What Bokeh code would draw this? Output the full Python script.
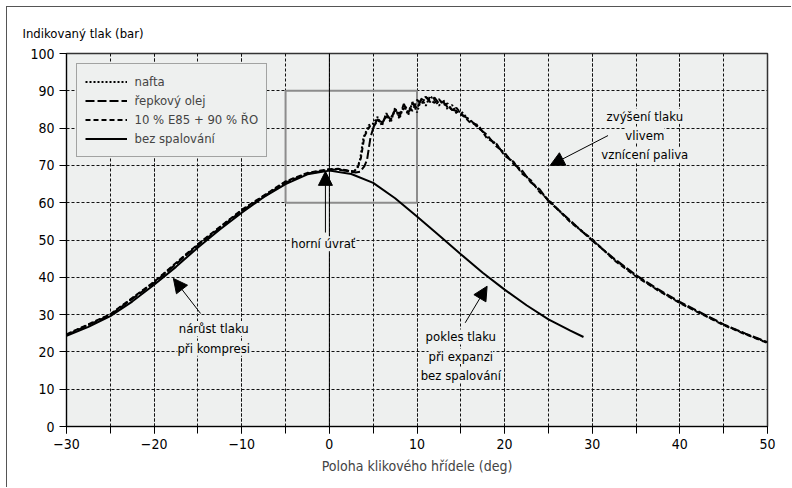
from bokeh.plotting import figure
from bokeh.models import (Range1d, SingleIntervalTicker, Legend, LegendItem, Label,
                          Arrow, NormalHead, Span, Title)
from bokeh.embed import file_html
from bokeh.resources import INLINE

# ---------------- data ----------------
deg_motor = [-30, -27.5, -25, -22.5, -20, -17.5, -15, -12.5, -10, -7.5, -5, -2.5, 0,
             2.5, 5, 7.5, 10, 12.5, 15, 17.5, 20, 22.5, 25, 27.5, 29]
p_motor = [24.3, 26.7, 29.6, 33.5, 38.0, 42.8, 48.0, 52.8, 57.3, 61.5, 65.0, 67.6, 68.6,
           67.7, 65.3, 61.2, 56.3, 51.3, 46.2, 41.2, 36.7, 32.5, 28.7, 25.7, 24.0]

deg_nafta = [-30, -25, -20, -15, -10, -5, -2.5, 0, 1, 2, 2.8, 3.2, 3.5, 3.9, 4.5,
             5.0, 5.5, 6.0, 6.5, 7.0, 7.5, 8.0, 8.5, 9.0, 9.5, 10.0, 10.5, 11.0, 11.5,
             12.0, 12.5, 13.0, 13.5, 14.0, 14.5, 15.0, 16, 17, 18, 19, 20, 21, 22, 23,
             24, 25, 27.5, 30, 32.5, 35, 37.5, 40, 42.5, 45, 47.5, 50]
p_nafta = [24.6, 30.0, 38.7, 48.8, 58.0, 65.6, 67.9, 68.9, 69.0, 68.6, 68.3, 69.5, 71.5, 77.5, 80.8,
           81.2, 83.0, 80.6, 84.0, 81.5, 85.5, 82.5, 86.2, 83.5, 87.0, 84.2, 88.0, 86.0, 88.6,
           87.5, 86.0, 87.6, 85.0, 86.2, 84.0, 84.6, 82.0, 80.4, 77.6, 75.8, 73.0, 70.8, 68.2, 65.7,
           63.2, 60.6, 55.0, 50.0, 44.8, 40.4, 36.6, 33.2, 30.2, 27.3, 24.8, 22.5]

deg_repka = [-30, -25, -20, -15, -10, -5, -2.5, 0, 1, 2, 3, 3.5, 4.0, 4.3, 4.7, 5.1,
             5.5, 6.0, 6.5, 7.0, 7.5, 8.0, 8.5, 9.0, 9.5, 10.0, 10.5, 11.0, 11.5, 12.0,
             12.5, 13.0, 13.5, 14.0, 14.5, 15.0, 16, 17, 18, 19, 20, 21, 22, 23, 24, 25,
             27.5, 30, 32.5, 35, 37.5, 40, 42.5, 45, 47.5, 50]
p_repka = [24.5, 29.9, 38.5, 48.6, 57.8, 65.4, 67.8, 68.8, 68.9, 68.5, 68.1, 68.3, 69.8, 71.5, 77.6, 80.7,
           82.4, 81.0, 83.8, 82.2, 85.0, 83.0, 86.5, 84.0, 86.8, 85.2, 87.8, 88.4, 87.0,
           88.2, 86.6, 87.0, 85.6, 85.0, 84.6, 83.6, 82.4, 80.0, 78.2, 75.2, 73.4, 70.4, 68.6, 65.4,
           63.6, 60.4, 55.2, 49.8, 45.0, 40.6, 36.8, 33.4, 30.4, 27.4, 24.9, 22.6]

deg_e85 = [-30, -25, -20, -15, -10, -5, -2.5, 0, 1, 2, 2.8, 3.2, 3.6, 4.0, 4.6,
           5.0, 5.5, 6.0, 6.5, 7.0, 7.5, 8.0, 8.5, 9.0, 9.5, 10.0, 10.5, 11.0, 11.5,
           12.0, 12.5, 13.0, 13.5, 14.0, 14.5, 15.0, 16, 17, 18, 19, 20, 21, 22, 23,
           24, 25, 27.5, 30, 32.5, 35, 37.5, 40, 42.5, 45, 47.5, 50]
p_e85 = [24.7, 30.1, 38.8, 48.9, 58.1, 65.7, 68.0, 69.0, 69.1, 68.7, 68.4, 69.2, 72.0, 77.8, 80.5,
         80.2, 82.0, 81.6, 83.0, 82.8, 84.4, 84.0, 85.2, 85.8, 84.6, 87.6, 86.4, 88.4, 87.4,
         86.8, 87.8, 86.2, 86.6, 84.8, 85.4, 84.0, 81.6, 80.8, 77.2, 76.0, 72.6, 71.0, 67.8, 66.0,
         62.8, 60.8, 54.8, 50.2, 44.6, 40.2, 36.5, 33.1, 30.1, 27.2, 24.7, 22.4]

x_ticks = [-30, -20, -10, 0, 10, 20, 30, 40, 50]
x_tick_labels = ["\u221230", "\u221220", "\u221210", "0", "10", "20", "30", "40", "50"]
zoom_box = [-5, 10, 60, 90]  # left, right, bottom, top

FONT = "'DejaVu Sans Condensed', Roboto, sans-serif"
BG = "#eef0ef"

p = figure(width=785, height=481, output_backend="svg", toolbar_location=None,
           x_range=Range1d(-30, 50), y_range=Range1d(0, 100),
           min_border_left=59, min_border_right=25, min_border_top=46, min_border_bottom=62,
           background_fill_color=BG, border_fill_color="white")
p.styles = {"margin-left": "5.5px", "margin-top": "5.5px",
            "border-left": "1.5px solid #555", "border-top": "1.5px solid #555"}
p.outline_line_color = "#333"
p.outline_line_width = 1.5

# y axis title (horizontal, above the axis)
t = Title(text="Indikovaný tlak (bar)", align="left", offset=-44, standoff=26,
          text_font=FONT, text_font_size="13px", text_font_style="normal", text_color="black")
p.add_layout(t, "above")

# axes
p.xaxis.ticker = SingleIntervalTicker(interval=10, num_minor_ticks=2)
p.yaxis.ticker = SingleIntervalTicker(interval=10, num_minor_ticks=0)
p.xaxis.major_label_overrides = {t_: l for t_, l in zip(x_ticks, x_tick_labels)}
for ax in (p.xaxis[0], p.yaxis[0]):
    ax.major_tick_in = 0
    ax.major_tick_out = 7
    ax.minor_tick_in = 0
    ax.minor_tick_out = 7
    ax.major_tick_line_color = "black"
    ax.minor_tick_line_color = "black"
    ax.axis_line_color = "black"
    ax.major_label_text_font = FONT
    ax.major_label_text_font_size = "14px"
    ax.major_label_text_color = "black"
    ax.major_label_standoff = 5
p.yaxis.minor_tick_line_color = None
p.xaxis.axis_label = "Poloha klikového hřídele (deg)"
p.xaxis.axis_label_text_font = FONT
p.xaxis.axis_label_text_font_size = "14px"
p.xaxis.axis_label_text_font_style = "normal"
p.xaxis.axis_label_standoff = 6

# grid
for g in (p.xgrid[0], p.ygrid[0]):
    g.grid_line_color = "#111"
    g.grid_line_dash = "3 2"
    g.grid_line_width = 1
p.xgrid.minor_grid_line_color = "#111"
p.xgrid.minor_grid_line_dash = "3 2"
p.xgrid.minor_grid_line_width = 1

# zoom box and TDC line
p.quad(left=[zoom_box[0]], right=[zoom_box[1]], bottom=[zoom_box[2]], top=[zoom_box[3]],
       fill_alpha=0, line_color="#8c8c8c", line_width=2)
p.add_layout(Span(location=0, dimension="height", line_color="black", line_width=1))

# curves
r_nafta = p.line(deg_nafta, p_nafta, line_color="black", line_width=2, line_dash="2 2")
r_repka = p.line(deg_repka, p_repka, line_color="black", line_width=2, line_dash="9 3")
r_e85 = p.line(deg_e85, p_e85, line_color="black", line_width=2, line_dash="5 3")
r_motor = p.line(deg_motor, p_motor, line_color="black", line_width=2)

legend = Legend(items=[LegendItem(label="nafta", renderers=[r_nafta]),
                       LegendItem(label="řepkový olej", renderers=[r_repka]),
                       LegendItem(label="10 % E85 + 90 % ŘO", renderers=[r_e85]),
                       LegendItem(label="bez spalování", renderers=[r_motor])],
                location="top_left")
legend.margin = 10
legend.padding = 8
legend.spacing = 0
legend.label_height = 19
legend.glyph_height = 19
legend.glyph_width = 42
legend.label_standoff = 8
legend.label_text_font = FONT
legend.label_text_font_size = "13px"
legend.border_line_color = "#555"
legend.border_line_width = 1.5
legend.background_fill_color = BG
legend.background_fill_alpha = 1
p.add_layout(legend)

# arrows
def arrow(x0, y0, x1, y1):
    p.add_layout(Arrow(end=NormalHead(size=14, fill_color="black", line_color="black"),
                       x_start=x0, y_start=y0, x_end=x1, y_end=y1,
                       line_color="black", line_width=1))

arrow(31.8, 78.0, 25.2, 70.0)
arrow(-0.45, 52.0, -0.45, 68.4)
arrow(-14.7, 30.3, -17.8, 39.7)
arrow(15.5, 27.8, 18.0, 37.6)

def label(x, y, txt):
    lb = Label(x=x, y=y, text=txt, text_font=FONT, text_font_size="13px",
               text_align="center", text_baseline="middle", text_color="black",
               background_fill_color=BG, background_fill_alpha=1)
    p.add_layout(lb)

label(36.0, 83.2, "zvýšení tlaku")
label(36.0, 78.0, "vlivem")
label(36.0, 72.8, "vznícení paliva")
label(-0.7, 49.0, "horní úvrať")
label(-13.2, 26.3, "nárůst tlaku")
label(-13.2, 21.0, "při kompresi")
label(15.0, 24.0, "pokles tlaku")
label(15.0, 18.8, "při expanzi")
label(15.0, 13.8, "bez spalování")

open("out.html", "w").write(file_html(p, INLINE))
